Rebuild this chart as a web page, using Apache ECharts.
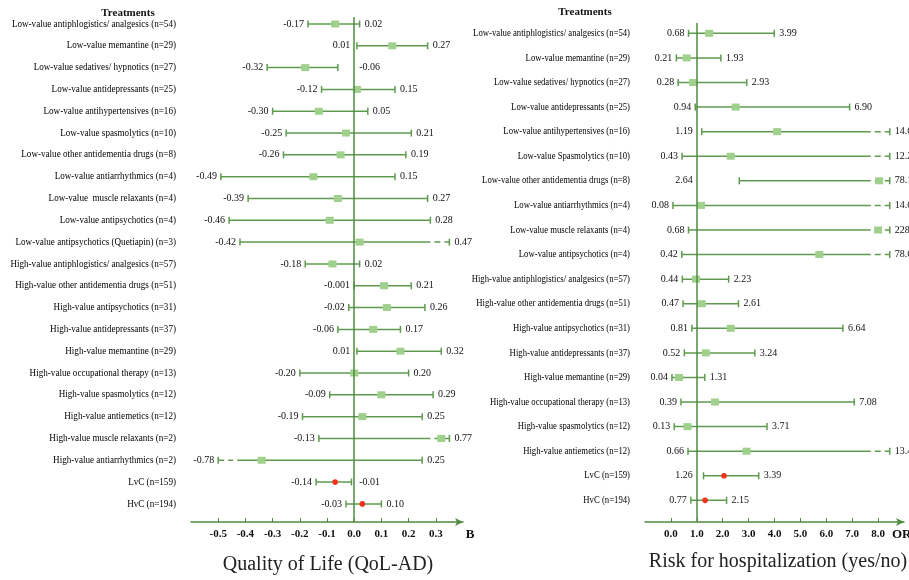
<!DOCTYPE html>
<html>
<head>
<meta charset="utf-8">
<script src="https://cdn.jsdelivr.net/npm/echarts@6/dist/echarts.min.js"></script>
<style>
html, body { margin: 0; padding: 0; background: #fff; }
#chart { width: 909px; height: 580px; }
</style>
</head>
<body>
<div id="chart"></div>
<script>
// left panel: Quality of Life (QoL-AD), B with 95% CI
const qolNames = [
  'Low-value antiphlogistics/ analgesics (n=54)',
  'Low-value memantine (n=29)',
  'Low-value sedatives/ hypnotics (n=27)',
  'Low-value antidepressants (n=25)',
  'Low-value antihypertensives (n=16)',
  'Low-value spasmolytics (n=10)',
  'Low-value other antidementia drugs (n=8)',
  'Low-value antiarrhythmics (n=4)',
  'Low-value  muscle relaxants (n=4)',
  'Low-value antipsychotics (n=4)',
  'Low-value antipsychotics (Quetiapin) (n=3)',
  'High-value antiphlogistics/ analgesics (n=57)',
  'High-value other antidementia drugs (n=51)',
  'High-value antipsychotics (n=31)',
  'High-value antidepressants (n=37)',
  'High-value memantine (n=29)',
  'High-value occupational therapy (n=13)',
  'High-value spasmolytics (n=12)',
  'High-value antiemetics (n=12)',
  'High-value muscle relaxants (n=2)',
  'High-value antiarrhythmics (n=2)',
  'LvC (n=159)',
  'HvC (n=194)'
]
const qolLower = [-0.17, 0.01, -0.32, -0.12, -0.30, -0.25, -0.26, -0.49, -0.39, -0.46, -0.42,
  -0.18, -0.001, -0.02, -0.06, 0.01, -0.20, -0.09, -0.19, -0.13, -0.78, -0.14, -0.03]
const qolUpper = [0.02, 0.27, -0.06, 0.15, 0.05, 0.21, 0.19, 0.15, 0.27, 0.28, 0.47,
  0.02, 0.21, 0.26, 0.17, 0.32, 0.20, 0.29, 0.25, 0.77, 0.25, -0.01, 0.10]
const qolEst = [-0.07, 0.14, -0.18, 0.01, -0.13, -0.03, -0.05, -0.15, -0.06, -0.09, 0.02,
  -0.08, 0.11, 0.12, 0.07, 0.17, 0.00, 0.10, 0.03, 0.32, -0.34, -0.07, 0.03]
const qolTicks = [-0.5, -0.4, -0.3, -0.2, -0.1, 0, 0.1, 0.2, 0.3]

// right panel: Risk for hospitalization, OR with 95% CI
const hospNames = [
  'Low-value antiphlogistics/ analgesics (n=54)',
  'Low-value memantine (n=29)',
  'Low-value sedatives/ hypnotics (n=27)',
  'Low-value antidepressants (n=25)',
  'Low-value antihypertensives (n=16)',
  'Low-value Spasmolytics (n=10)',
  'Low-value other antidementia drugs (n=8)',
  'Low-value antiarrhythmics (n=4)',
  'Low-value muscle relaxants (n=4)',
  'Low-value antipsychotics (n=4)',
  'High-value antiphlogistics/ analgesics (n=57)',
  'High-value other antidementia drugs (n=51)',
  'High-value antipsychotics (n=31)',
  'High-value antidepressants (n=37)',
  'High-value memantine (n=29)',
  'High-value occupational therapy (n=13)',
  'High-value spasmolytics (n=12)',
  'High-value antiemetics (n=12)',
  'LvC (n=159)',
  'HvC (n=194)'
]
const hospLower = [0.68, 0.21, 0.28, 0.94, 1.19, 0.43, 2.64, 0.08, 0.68, 0.42,
  0.44, 0.47, 0.81, 0.52, 0.04, 0.39, 0.13, 0.66, 1.26, 0.77]
const hospUpper = [3.99, 1.93, 2.93, 6.90, 14.68, 12.25, 78.16, 14.60, 228.70, 78.63,
  2.23, 2.61, 6.64, 3.24, 1.31, 7.08, 3.71, 13.45, 3.39, 2.15]
const hospEst = [1.48, 0.61, 0.86, 2.50, 4.10, 2.31, 8.04, 1.16, 8.00, 5.73,
  0.97, 1.19, 2.31, 1.35, 0.31, 1.70, 0.64, 2.92, 2.05, 1.32]
const hospTicks = [0, 1, 2, 3, 4, 5, 6, 7, 8]

const lineGreen = '#5e9b4e'
const axisGreen = '#4f8a40'
const markGreen = '#9fd08c'
const dotRed = '#f2301e'
const serif = '"Liberation Serif", "Times New Roman", serif'

function fmt(v) {
  if (v !== 0 && Math.abs(v) < 0.01) return v.toFixed(3)
  return v.toFixed(2)
}

function tickFmt(v) {
  return Math.abs(v) < 1e-9 ? '0.0' : v.toFixed(1)
}

// renderItem for a forest panel; CIs beyond cap are drawn broken (dashed)
function forest(names, ref, capLo, capHi, nameScale) {
  return function (params, api) {
    const i = api.value(4)
    const row = api.value(0)
    const lo = api.value(1), hi = api.value(2), est = api.value(3)
    const y = api.coord([0, row])[1]
    const px = v => api.coord([v, row])[0]
    const refX = px(ref)
    const xlo = px(Math.max(lo, capLo))
    const xhi = px(Math.min(hi, capHi))
    const dash = 19
    const solid = { stroke: lineGreen, lineWidth: 1.5 }
    const dashed = { stroke: lineGreen, lineWidth: 1.5, lineDash: [6, 4] }
    let a = xlo, b = xhi
    const kids = []
    if (lo < capLo) {
      kids.push({ type: 'line', shape: { x1: xlo, y1: y, x2: xlo + dash - 4, y2: y }, style: dashed })
      a = xlo + dash
    }
    if (hi > capHi) {
      kids.push({ type: 'line', shape: { x1: xhi - dash + 4, y1: y, x2: xhi, y2: y }, style: dashed })
      b = xhi - dash
    }
    kids.push({ type: 'line', shape: { x1: a, y1: y, x2: b, y2: y }, style: solid })
    kids.push({ type: 'line', shape: { x1: xlo, y1: y - 3.5, x2: xlo, y2: y + 3.5 }, style: solid })
    kids.push({ type: 'line', shape: { x1: xhi, y1: y - 3.5, x2: xhi, y2: y + 3.5 }, style: solid })
    const xe = px(est)
    const name = names[i]
    if (/^(Low|High)-value/.test(name)) {
      kids.push({ type: 'rect', shape: { x: xe - 4, y: y - 3.5, width: 8, height: 7 }, style: { fill: markGreen } })
    } else {
      kids.push({ type: 'circle', shape: { cx: xe, cy: y, r: 2.8 }, style: { fill: dotRed } })
    }
    kids.push({ type: 'text', x: params.coordSys.x - 15, y: y, scaleX: nameScale,
      style: { text: name, fill: '#000', fontSize: 10, fontFamily: serif, align: 'right', verticalAlign: 'middle' } })
    kids.push({ type: 'text', x: Math.min(xlo, refX) - 4, y: y,
      style: { text: fmt(lo), fill: '#111', fontSize: 10, fontFamily: serif, align: 'right', verticalAlign: 'middle' } })
    kids.push({ type: 'text', x: Math.max(xhi, refX) + 5, y: y,
      style: { text: fmt(hi), fill: '#111', fontSize: 10, fontFamily: serif, align: 'left', verticalAlign: 'middle' } })
    return { type: 'group', children: kids }
  }
}

function xAxisFor(idx, min, max, ticks) {
  return {
    type: 'value', gridIndex: idx, min: min, max: max,
    splitLine: { show: false },
    axisLine: { onZero: false, symbol: ['none', 'arrow'], symbolSize: [6, 8], lineStyle: { color: axisGreen, width: 1.5 } },
    axisTick: { inside: true, length: 4, customValues: ticks, lineStyle: { color: axisGreen } },
    axisLabel: { customValues: ticks, formatter: tickFmt, margin: 7, color: '#111', fontSize: 11, fontWeight: 'bold', fontFamily: serif }
  }
}

function refLine(v) {
  return {
    silent: true, symbol: 'none', label: { show: false },
    lineStyle: { color: axisGreen, width: 1.5, type: 'solid' },
    data: [{ xAxis: v }]
  }
}

const chart = echarts.init(document.getElementById('chart'))
chart.setOption({
  animation: false,
  backgroundColor: '#fff',
  grid: [
    { left: 191, top: 17, width: 272, height: 505 },
    { left: 645, top: 23, width: 259, height: 499 }
  ],
  xAxis: [xAxisFor(0, -0.6, 0.4, qolTicks), xAxisFor(1, -1, 9, hospTicks)],
  yAxis: [
    { type: 'value', gridIndex: 0, inverse: true, min: 0.68, max: 23.83, show: false },
    { type: 'value', gridIndex: 1, inverse: true, min: 0.58, max: 20.88, show: false }
  ],
  series: [
    {
      type: 'custom', xAxisIndex: 0, yAxisIndex: 0, clip: false,
      renderItem: forest(qolNames, 0, -0.5, 0.35, 0.91),
      encode: { x: [1, 2, 3], y: 0 },
      data: qolNames.map((n, i) => [i + 1, qolLower[i], qolUpper[i], qolEst[i], i]),
      markLine: refLine(0)
    },
    {
      type: 'custom', xAxisIndex: 1, yAxisIndex: 1, clip: false,
      renderItem: forest(hospNames, 1, -1, 8.45, 0.87),
      encode: { x: [1, 2, 3], y: 0 },
      data: hospNames.map((n, i) => [i + 1, hospLower[i], hospUpper[i], hospEst[i], i]),
      markLine: refLine(1)
    }
  ],
  graphic: [
    { type: 'text', x: 128, y: 13, style: { text: 'Treatments', fontSize: 11, fontWeight: 'bold', fontFamily: serif, fill: '#111', align: 'center', verticalAlign: 'middle' } },
    { type: 'text', x: 585, y: 12, style: { text: 'Treatments', fontSize: 11, fontWeight: 'bold', fontFamily: serif, fill: '#111', align: 'center', verticalAlign: 'middle' } },
    { type: 'text', x: 470, y: 535, style: { text: 'B', fontSize: 13, fontWeight: 'bold', fontFamily: serif, fill: '#111', align: 'center', verticalAlign: 'middle' } },
    { type: 'text', x: 892, y: 535, style: { text: 'OR', fontSize: 13, fontWeight: 'bold', fontFamily: serif, fill: '#111', align: 'left', verticalAlign: 'middle' } },
    { type: 'text', x: 328, y: 565, style: { text: 'Quality of Life (QoL-AD)', fontSize: 20, fontFamily: serif, fill: '#222', align: 'center', verticalAlign: 'middle' } },
    { type: 'text', x: 778, y: 562, style: { text: 'Risk for hospitalization (yes/no)', fontSize: 20, fontFamily: serif, fill: '#222', align: 'center', verticalAlign: 'middle' } }
  ]
})
</script>
</body>
</html>
